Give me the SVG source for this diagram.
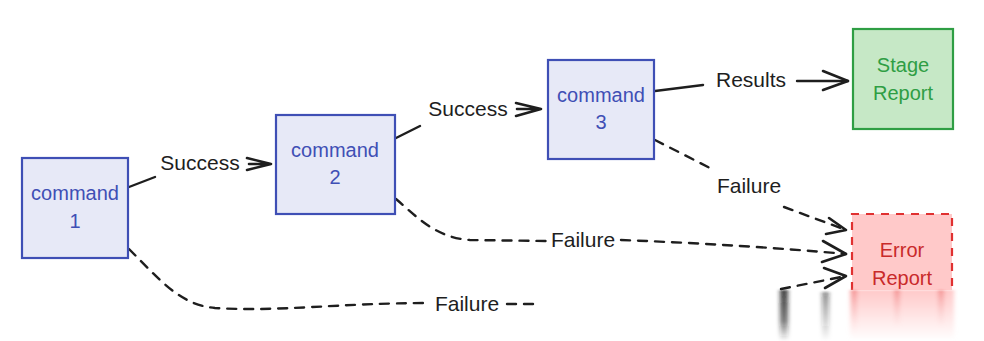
<svg xmlns="http://www.w3.org/2000/svg" width="984" height="341" viewBox="0 0 984 341">
<defs>
<style>
.cmd rect{fill:#e7e9f7;stroke:#3f4fb5;stroke-width:2.2}
.cmd text{fill:#3f4fb5}
text{font-family:"Liberation Sans","DejaVu Sans",sans-serif;font-size:20px;text-anchor:middle}
.lbl{fill:#1e1e1e;font-size:21px}
.ln{fill:none;stroke:#1e1e1e;stroke-width:2.4;stroke-linecap:round}
.dash{stroke-dasharray:9 8}
.ah{fill:none;stroke:#1e1e1e;stroke-width:2.6;stroke-linecap:round;stroke-linejoin:round}
</style>
<filter id="blur" x="-50%" y="-10%" width="200%" height="120%"><feGaussianBlur stdDeviation="2 1"/></filter>
<linearGradient id="fadeK" x1="0" y1="0" x2="0" y2="1"><stop offset="0" stop-color="#1e1e1e" stop-opacity="0.85"/><stop offset="0.6" stop-color="#1e1e1e" stop-opacity="0.6"/><stop offset="1" stop-color="#1e1e1e" stop-opacity="0"/></linearGradient>
<linearGradient id="fadeG" x1="0" y1="0" x2="0" y2="1"><stop offset="0" stop-color="#1e1e1e" stop-opacity="0.5"/><stop offset="1" stop-color="#1e1e1e" stop-opacity="0"/></linearGradient>
<linearGradient id="fadeP" x1="0" y1="0" x2="0" y2="1"><stop offset="0" stop-color="#ffc9c9" stop-opacity="1"/><stop offset="1" stop-color="#ffc9c9" stop-opacity="0"/></linearGradient>
<linearGradient id="fadeR" x1="0" y1="0" x2="0" y2="1"><stop offset="0" stop-color="#e03131" stop-opacity="0.35"/><stop offset="1" stop-color="#ffc9c9" stop-opacity="0"/></linearGradient>
</defs>
<rect width="984" height="341" fill="#ffffff"/>

<g id="connectors">
  <!-- c1 -> c2 -->
  <path class="ln" d="M129 187 L155 177"/>
  <text class="lbl" x="200" y="170">Success</text>
  <path class="ah" d="M247 158 L271 164 L247 170 M249 164 L271 164"/>
  <!-- c2 -> c3 -->
  <path class="ln" d="M396 138 L420 126"/>
  <text class="lbl" x="468" y="116">Success</text>
  <path class="ah" d="M516 103 L541 109 L516 116 M517 109 L541 109"/>
  <!-- c3 -> stage -->
  <path class="ln" d="M655 91 L703 85"/>
  <text class="lbl" x="751" y="87">Results</text>
  <path class="ln" d="M797 81 L848 81"/>
  <path class="ah" d="M823 71 L848 81 L823 90"/>
  <!-- c3 -> error -->
  <path class="ln dash" d="M655 140 L710 168"/>
  <text class="lbl" x="749" y="193">Failure</text>
  <path class="ln dash" d="M784 207 L846 230"/>
  <path class="ah" d="M829 218 L846 230 L826 234"/>
  <!-- c2 -> error -->
  <path class="ln dash" d="M396 199 C415 215 435 238 470 240 L546 241"/>
  <text class="lbl" x="583" y="247">Failure</text>
  <path class="ln dash" d="M621 240 C700 243 780 248 846 254"/>
  <path class="ah" d="M823 241 L846 254 L822 262"/>
  <!-- c1 -> error -->
  <path class="ln dash" d="M129 249 C160 280 180 305 215 308 C280 312 340 303 429 303"/>
  <text class="lbl" x="467" y="311">Failure</text>
  <path class="ln dash" d="M507 304 L535 304"/>
  <path class="ln dash" d="M781 289 L846 276"/>
  <path class="ah" d="M824 268 L846 276 L825 288"/>
</g>

<g id="command1" class="cmd">
  <rect x="22" y="158" width="106" height="100"/>
  <text x="75" y="200">command</text>
  <text x="75" y="228">1</text>
</g>
<g id="command2" class="cmd">
  <rect x="276" y="115" width="119" height="99"/>
  <text x="335" y="157">command</text>
  <text x="335" y="184">2</text>
</g>
<g id="command3" class="cmd">
  <rect x="548" y="60" width="106" height="99"/>
  <text x="601" y="102">command</text>
  <text x="601" y="129">3</text>
</g>
<g id="stage-report">
  <rect x="853" y="29" width="100" height="100" fill="#c6e8c6" stroke="#2f9e44" stroke-width="2.2"/>
  <text x="903" y="72" fill="#2f9e44">Stage</text>
  <text x="903" y="100" fill="#2f9e44">Report</text>
</g>
<g id="error-report">
  <rect x="852" y="214" width="100" height="76" fill="#ffc9c9"/>
  <path d="M852 290 L852 214 L952 214 L952 290" fill="none" stroke="#e03131" stroke-width="2.2" stroke-dasharray="8 7"/>
  <text x="902" y="257" fill="#c92a2a">Error</text>
  <text x="902" y="285" fill="#c92a2a">Report</text>
</g>

<g id="fade-artifact" filter="url(#blur)">
  <rect x="780" y="290" width="8" height="51" fill="url(#fadeK)"/>
  <rect x="822" y="292" width="7" height="49" fill="url(#fadeG)"/>
  <rect x="850" y="290" width="104" height="51" fill="url(#fadeP)"/>
  <rect x="851" y="290" width="6" height="45" fill="url(#fadeR)"/>
  <rect x="894" y="290" width="6" height="40" fill="url(#fadeR)"/>
  <rect x="938" y="290" width="6" height="40" fill="url(#fadeR)"/>
</g>
</svg>
